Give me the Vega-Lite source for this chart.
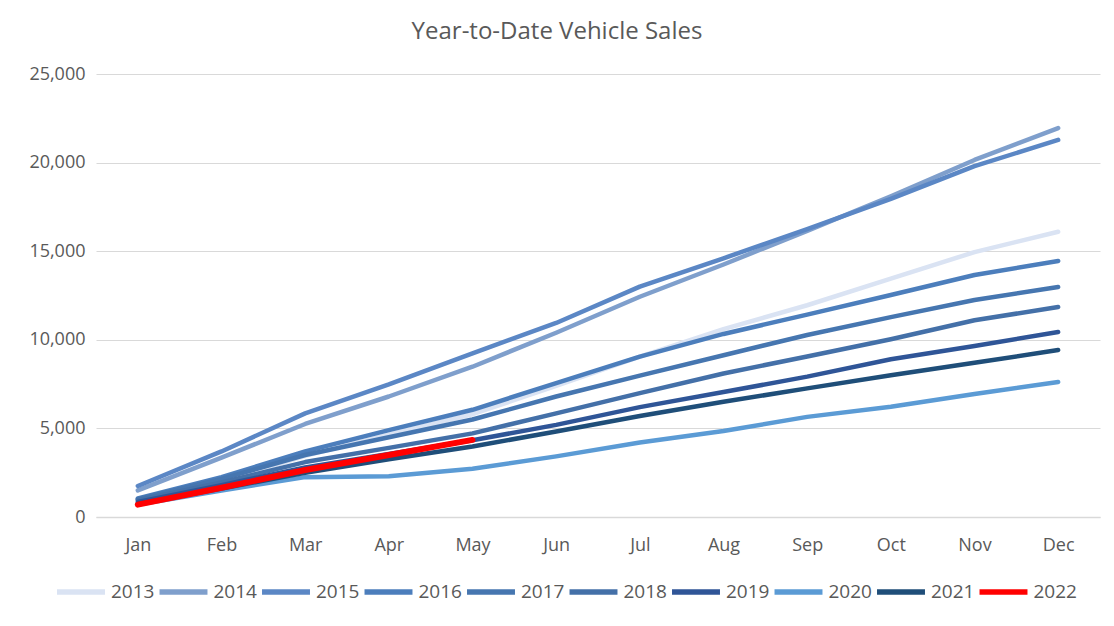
{
  "$schema": "https://vega.github.io/schema/vega-lite/v6.json",
  "width": 1004,
  "height": 443,
  "autosize": {"type": "none"},
  "padding": {"left": 96, "top": 74, "right": 14, "bottom": 109},
  "background": "white",
  "title": {
    "text": "Year-to-Date Vehicle Sales",
    "fontSize": 24,
    "font": "Open Sans",
    "fontWeight": "normal",
    "color": "#595959",
    "anchor": "middle",
    "dx": -41,
    "offset": 21
  },
  "config": {
    "view": {"stroke": null},
    "font": "Open Sans"
  },
  "data": {
    "values": [
      {"month": "Jan", "year": "2013", "sales": 950},
      {"month": "Feb", "year": "2013", "sales": 2000},
      {"month": "Mar", "year": "2013", "sales": 3450},
      {"month": "Apr", "year": "2013", "sales": 4650},
      {"month": "May", "year": "2013", "sales": 5800},
      {"month": "Jun", "year": "2013", "sales": 7400},
      {"month": "Jul", "year": "2013", "sales": 9050},
      {"month": "Aug", "year": "2013", "sales": 10600},
      {"month": "Sep", "year": "2013", "sales": 11950},
      {"month": "Oct", "year": "2013", "sales": 13450},
      {"month": "Nov", "year": "2013", "sales": 14950},
      {"month": "Dec", "year": "2013", "sales": 16100},
      {"month": "Jan", "year": "2014", "sales": 1500},
      {"month": "Feb", "year": "2014", "sales": 3350},
      {"month": "Mar", "year": "2014", "sales": 5250},
      {"month": "Apr", "year": "2014", "sales": 6800},
      {"month": "May", "year": "2014", "sales": 8480},
      {"month": "Jun", "year": "2014", "sales": 10400},
      {"month": "Jul", "year": "2014", "sales": 12430},
      {"month": "Aug", "year": "2014", "sales": 14250},
      {"month": "Sep", "year": "2014", "sales": 16150},
      {"month": "Oct", "year": "2014", "sales": 18100},
      {"month": "Nov", "year": "2014", "sales": 20150},
      {"month": "Dec", "year": "2014", "sales": 21950},
      {"month": "Jan", "year": "2015", "sales": 1750},
      {"month": "Feb", "year": "2015", "sales": 3700},
      {"month": "Mar", "year": "2015", "sales": 5850},
      {"month": "Apr", "year": "2015", "sales": 7480},
      {"month": "May", "year": "2015", "sales": 9240},
      {"month": "Jun", "year": "2015", "sales": 10950},
      {"month": "Jul", "year": "2015", "sales": 13000},
      {"month": "Aug", "year": "2015", "sales": 14600},
      {"month": "Sep", "year": "2015", "sales": 16250},
      {"month": "Oct", "year": "2015", "sales": 17950},
      {"month": "Nov", "year": "2015", "sales": 19800},
      {"month": "Dec", "year": "2015", "sales": 21280},
      {"month": "Jan", "year": "2016", "sales": 1050},
      {"month": "Feb", "year": "2016", "sales": 2250},
      {"month": "Mar", "year": "2016", "sales": 3700},
      {"month": "Apr", "year": "2016", "sales": 4900},
      {"month": "May", "year": "2016", "sales": 6050},
      {"month": "Jun", "year": "2016", "sales": 7560},
      {"month": "Jul", "year": "2016", "sales": 9050},
      {"month": "Aug", "year": "2016", "sales": 10330},
      {"month": "Sep", "year": "2016", "sales": 11420},
      {"month": "Oct", "year": "2016", "sales": 12530},
      {"month": "Nov", "year": "2016", "sales": 13660},
      {"month": "Dec", "year": "2016", "sales": 14450},
      {"month": "Jan", "year": "2017", "sales": 1000},
      {"month": "Feb", "year": "2017", "sales": 2150},
      {"month": "Mar", "year": "2017", "sales": 3500},
      {"month": "Apr", "year": "2017", "sales": 4500},
      {"month": "May", "year": "2017", "sales": 5500},
      {"month": "Jun", "year": "2017", "sales": 6800},
      {"month": "Jul", "year": "2017", "sales": 7980},
      {"month": "Aug", "year": "2017", "sales": 9130},
      {"month": "Sep", "year": "2017", "sales": 10270},
      {"month": "Oct", "year": "2017", "sales": 11280},
      {"month": "Nov", "year": "2017", "sales": 12250},
      {"month": "Dec", "year": "2017", "sales": 12980},
      {"month": "Jan", "year": "2018", "sales": 950},
      {"month": "Feb", "year": "2018", "sales": 1950},
      {"month": "Mar", "year": "2018", "sales": 3100},
      {"month": "Apr", "year": "2018", "sales": 3900},
      {"month": "May", "year": "2018", "sales": 4720},
      {"month": "Jun", "year": "2018", "sales": 5850},
      {"month": "Jul", "year": "2018", "sales": 6990},
      {"month": "Aug", "year": "2018", "sales": 8100},
      {"month": "Sep", "year": "2018", "sales": 9060},
      {"month": "Oct", "year": "2018", "sales": 10030},
      {"month": "Nov", "year": "2018", "sales": 11100},
      {"month": "Dec", "year": "2018", "sales": 11850},
      {"month": "Jan", "year": "2019", "sales": 850},
      {"month": "Feb", "year": "2019", "sales": 1800},
      {"month": "Mar", "year": "2019", "sales": 2800},
      {"month": "Apr", "year": "2019", "sales": 3550},
      {"month": "May", "year": "2019", "sales": 4330},
      {"month": "Jun", "year": "2019", "sales": 5200},
      {"month": "Jul", "year": "2019", "sales": 6200},
      {"month": "Aug", "year": "2019", "sales": 7050},
      {"month": "Sep", "year": "2019", "sales": 7920},
      {"month": "Oct", "year": "2019", "sales": 8900},
      {"month": "Nov", "year": "2019", "sales": 9650},
      {"month": "Dec", "year": "2019", "sales": 10440},
      {"month": "Jan", "year": "2020", "sales": 700},
      {"month": "Feb", "year": "2020", "sales": 1500},
      {"month": "Mar", "year": "2020", "sales": 2250},
      {"month": "Apr", "year": "2020", "sales": 2300},
      {"month": "May", "year": "2020", "sales": 2720},
      {"month": "Jun", "year": "2020", "sales": 3420},
      {"month": "Jul", "year": "2020", "sales": 4200},
      {"month": "Aug", "year": "2020", "sales": 4850},
      {"month": "Sep", "year": "2020", "sales": 5650},
      {"month": "Oct", "year": "2020", "sales": 6220},
      {"month": "Nov", "year": "2020", "sales": 6940},
      {"month": "Dec", "year": "2020", "sales": 7620},
      {"month": "Jan", "year": "2021", "sales": 750},
      {"month": "Feb", "year": "2021", "sales": 1600},
      {"month": "Mar", "year": "2021", "sales": 2500},
      {"month": "Apr", "year": "2021", "sales": 3260},
      {"month": "May", "year": "2021", "sales": 3980},
      {"month": "Jun", "year": "2021", "sales": 4820},
      {"month": "Jul", "year": "2021", "sales": 5700},
      {"month": "Aug", "year": "2021", "sales": 6500},
      {"month": "Sep", "year": "2021", "sales": 7260},
      {"month": "Oct", "year": "2021", "sales": 8000},
      {"month": "Nov", "year": "2021", "sales": 8700},
      {"month": "Dec", "year": "2021", "sales": 9420},
      {"month": "Jan", "year": "2022", "sales": 700},
      {"month": "Feb", "year": "2022", "sales": 1650},
      {"month": "Mar", "year": "2022", "sales": 2650},
      {"month": "Apr", "year": "2022", "sales": 3500},
      {"month": "May", "year": "2022", "sales": 4350}
    ]
  },
  "mark": {"type": "line", "strokeCap": "round", "strokeJoin": "round"},
  "encoding": {
    "x": {
      "field": "month",
      "type": "ordinal",
      "sort": ["Jan", "Feb", "Mar", "Apr", "May", "Jun", "Jul", "Aug", "Sep", "Oct", "Nov", "Dec"],
      "scale": {"type": "point", "padding": 0.5},
      "axis": {
        "title": null,
        "labelAngle": 0,
        "labelFontSize": 18,
        "labelColor": "#595959",
        "labelPadding": 19,
        "ticks": false,
        "domainColor": "#d9d9d9",
        "domainWidth": 1.5,
        "grid": false
      }
    },
    "y": {
      "field": "sales",
      "type": "quantitative",
      "scale": {"domain": [0, 25000], "nice": false},
      "axis": {
        "title": null,
        "values": [0, 5000, 10000, 15000, 20000, 25000],
        "format": ",d",
        "labelFontSize": 18,
        "labelColor": "#595959",
        "labelPadding": 11,
        "ticks": false,
        "domain": false,
        "gridColor": "#d9d9d9",
        "gridWidth": 1
      }
    },
    "color": {
      "field": "year",
      "type": "nominal",
      "scale": {
        "domain": ["2013", "2014", "2015", "2016", "2017", "2018", "2019", "2020", "2021", "2022"],
        "range": ["#dae3f3", "#7f9fcc", "#5b87c5", "#4c7ebc", "#4676b0", "#4470a8", "#2f5597", "#5b9bd5", "#1f4e79", "#ff0000"]
      },
      "legend": {
        "title": null,
        "orient": "none",
        "legendX": -42,
        "legendY": 491,
        "direction": "horizontal",
        "columns": 10,
        "symbolType": "stroke",
        "symbolSize": 2300,
        "symbolStrokeWidth": 5.5,
        "labelFontSize": 19,
        "labelColor": "#595959",
        "labelOffset": 3,
        "columnPadding": -6.5
      }
    },
    "strokeWidth": {
      "condition": {"test": "datum.year == '2022'", "value": 6},
      "value": 4.5
    }
  }
}
